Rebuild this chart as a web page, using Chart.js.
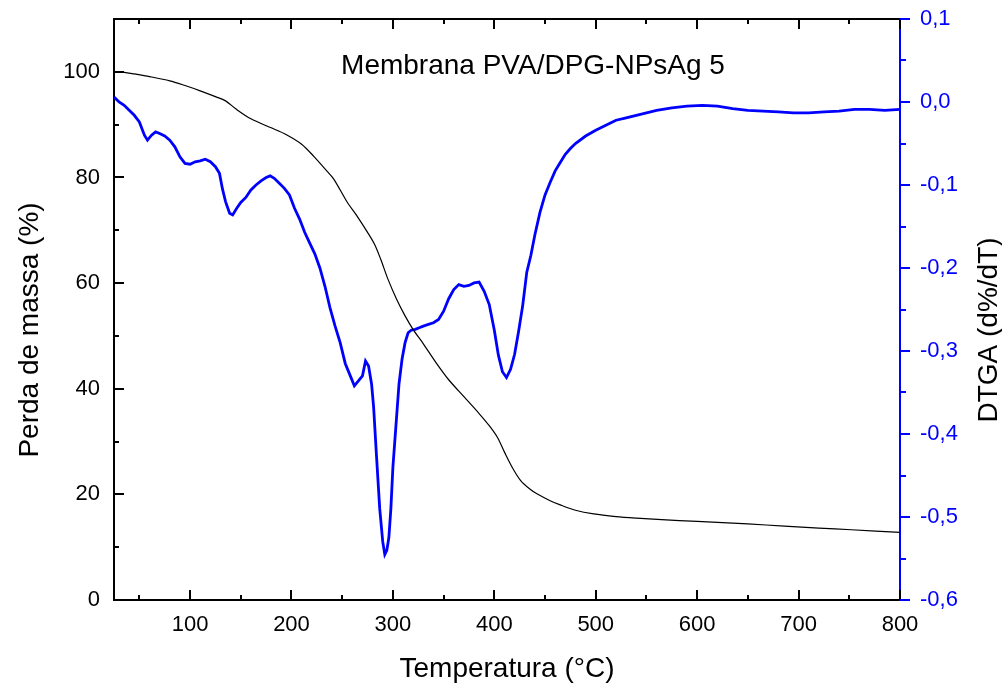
<!DOCTYPE html>
<html>
<head>
<meta charset="utf-8">
<script src="https://cdn.jsdelivr.net/npm/chart.js@4/dist/chart.umd.min.js"></script>
<style>
  html,body{margin:0;padding:0;background:#fff;}
  #wrap{width:1002px;height:686px;}
</style>
</head>
<body>
<div id="wrap"><canvas id="c" width="1002" height="686"></canvas></div>
<script>
// ---- data ----
const tgaTemps = [25,35,45,60,80,95,110,125,135,145,160,180,195,210,222,235,242,255,265,275,282,288,295,304,312,320,330,343,355,370,385,395,403,410,418,426,435,442,455,465,480,498,520,540,565,600,620,650,686,720,752,800];
const tgaMass  = [100,99.9,99.6,99.1,98.3,97.4,96.4,95.3,94.5,93.0,91.1,89.4,88.1,86.3,84.0,81.2,79.6,75.3,72.6,69.6,67.3,64.5,60.8,56.8,53.8,51.2,48.5,44.8,41.7,38.5,35.3,33.0,30.8,28.0,25.0,22.6,21.0,20.1,18.8,18.0,17.0,16.3,15.8,15.5,15.2,14.9,14.7,14.4,14.0,13.6,13.3,12.8];

const dtgTemps = [25,30,35,40,45,50,55,58,62,66,70,75,80,85,90,95,100,105,110,115,120,125,129,132,135,139,142,146,150,155,160,165,170,175,179,183,188,193,198,203,208,213,218,223,228,233,238,243,248,253,258,262,266,270,273,276,279,281,284,287,290,292,294,296,298,300,303,306,309,312,315,318,322,326,330,335,340,345,350,355,360,365,370,375,380,385,390,395,400,404,408,412,416,420,424,428,432,436,440,445,450,455,460,465,470,475,480,490,500,510,520,530,540,550,560,575,590,605,620,635,650,665,680,695,710,725,740,755,770,785,800];
const dtgValues = [0.006,0.000,-0.004,-0.010,-0.016,-0.024,-0.040,-0.046,-0.040,-0.036,-0.038,-0.041,-0.046,-0.054,-0.066,-0.074,-0.075,-0.072,-0.071,-0.069,-0.072,-0.078,-0.086,-0.105,-0.120,-0.134,-0.136,-0.128,-0.121,-0.115,-0.106,-0.100,-0.095,-0.091,-0.089,-0.092,-0.098,-0.104,-0.112,-0.128,-0.141,-0.157,-0.170,-0.183,-0.200,-0.222,-0.248,-0.270,-0.290,-0.315,-0.330,-0.342,-0.336,-0.330,-0.312,-0.318,-0.340,-0.368,-0.430,-0.490,-0.530,-0.545,-0.540,-0.525,-0.490,-0.440,-0.390,-0.340,-0.310,-0.290,-0.278,-0.275,-0.274,-0.272,-0.270,-0.268,-0.266,-0.262,-0.252,-0.237,-0.226,-0.220,-0.222,-0.221,-0.218,-0.217,-0.228,-0.244,-0.275,-0.305,-0.325,-0.332,-0.322,-0.304,-0.276,-0.245,-0.205,-0.185,-0.160,-0.133,-0.112,-0.097,-0.083,-0.073,-0.063,-0.056,-0.050,-0.041,-0.034,-0.028,-0.022,-0.019,-0.016,-0.013,-0.010,-0.007,-0.005,-0.004,-0.005,-0.008,-0.010,-0.011,-0.012,-0.013,-0.013,-0.012,-0.011,-0.009,-0.009,-0.010,-0.009];

const xTicks = [100,200,300,400,500,600,700,800];
const xMinorTicks = [50,150,250,350,450,550,650,750];
const massTicks = [0,20,40,60,80,100];
const massMinorTicks = [10,30,50,70,90];
const dtgTicks = [0.1,0,-0.1,-0.2,-0.3,-0.4,-0.5,-0.6];
const dtgTickLabels = ['0,1','0,0','-0,1','-0,2','-0,3','-0,4','-0,5','-0,6'];
const dtgMinorTicks = [0.05,-0.05,-0.15,-0.25,-0.35,-0.45,-0.55];

const titleText = 'Membrana PVA/DPG-NPsAg 5';
const xTitle = 'Temperatura (°C)';
const yTitle = 'Perda de massa (%)';
const y1Title = 'DTGA (d%/dT)';

const FONT = '"Liberation Sans", Arial, sans-serif';
const BLUE = '#0000ff';

const tgaData = tgaTemps.map((t,i)=>({x:t,y:tgaMass[i]}));
const dtgData = dtgTemps.map((t,i)=>({x:t,y:dtgValues[i]}));

const decor = {
  id:'decor',
  afterDraw(chart){
    const {ctx, chartArea:a, scales:{x,y,y1}} = chart;
    ctx.save();
    ctx.lineCap='butt';
    ctx.lineWidth=2;
    ctx.strokeStyle='#000';
    const L=(x0,y0,x1,y1_)=>{ctx.beginPath();ctx.moveTo(x0,y0);ctx.lineTo(x1,y1_);ctx.stroke();};
    L(a.left-1,a.top,a.right,a.top);
    xTicks.forEach(v=>{const p=Math.round(x.getPixelForValue(v));L(p,a.bottom,p,a.bottom-10);L(p,a.top,p,a.top+10);});
    xMinorTicks.forEach(v=>{const p=Math.round(x.getPixelForValue(v));L(p,a.bottom,p,a.bottom-5);L(p,a.top,p,a.top+5);});
    massTicks.forEach(v=>{const p=Math.round(y.getPixelForValue(v));L(a.left,p,a.left+10,p);});
    massMinorTicks.forEach(v=>{const p=Math.round(y.getPixelForValue(v));L(a.left,p,a.left+5,p);});
    ctx.strokeStyle=BLUE;
    dtgTicks.forEach(v=>{const p=Math.round(y1.getPixelForValue(v));L(a.right,p,a.right+10,p);});
    dtgMinorTicks.forEach(v=>{const p=Math.round(y1.getPixelForValue(v));L(a.right,p,a.right+6,p);});
    ctx.fillStyle='#000';
    ctx.font='28px '+FONT;
    ctx.textBaseline='alphabetic';
    ctx.textAlign='center';
    ctx.fillText(titleText,533,74);
    ctx.fillText(xTitle,(a.left+a.right)/2,677);
    ctx.save();ctx.translate(38,330);ctx.rotate(-Math.PI/2);ctx.fillText(yTitle,0,0);ctx.restore();
    ctx.save();ctx.translate(997,330);ctx.rotate(-Math.PI/2);ctx.fillText(y1Title,0,0);ctx.restore();
    ctx.restore();
  }
};

const fitV = w => s => { s.width = w; s.paddingTop = 0; s.paddingBottom = 0; };

new Chart(document.getElementById('c'),{
  type:'line',
  data:{datasets:[
    {label:'TGA',data:tgaData,yAxisID:'y',borderColor:'#000',borderWidth:1.2,pointRadius:0,tension:0.3,order:0},
    {label:'DTGA',data:dtgData,yAxisID:'y1',borderColor:BLUE,borderWidth:2.8,pointRadius:0,tension:0,order:1}
  ]},
  options:{
    responsive:false,animation:false,devicePixelRatio:1,
    layout:{padding:{top:19,left:0,right:0,bottom:0}},
    plugins:{legend:{display:false},tooltip:{enabled:false},title:{display:false}},
    scales:{
      x:{type:'linear',min:25,max:800,
        afterBuildTicks:s=>{s.ticks=xTicks.map(v=>({value:v}));},
        afterFit:s=>{s.height=86;s.paddingLeft=0;s.paddingRight=0;},
        grid:{display:false,drawTicks:false},
        border:{display:true,color:'#000',width:2},
        ticks:{padding:12,color:'#000',font:{family:FONT,size:22},maxRotation:0,autoSkip:false}},
      y:{type:'linear',position:'left',min:0,max:110,
        afterBuildTicks:s=>{s.ticks=massTicks.map(v=>({value:v}));},
        afterFit:fitV(114),
        grid:{display:false,drawTicks:false},
        border:{display:true,color:'#000',width:2},
        ticks:{padding:14,color:'#000',font:{family:FONT,size:22}}},
      y1:{type:'linear',position:'right',min:-0.6,max:0.1,
        afterBuildTicks:s=>{s.ticks=dtgTicks.map(v=>({value:v}));},
        afterFit:fitV(102),
        grid:{display:false,drawTicks:false},
        border:{display:true,color:BLUE,width:2},
        ticks:{padding:20,color:BLUE,font:{family:FONT,size:22},
          callback:(v)=>{const i=dtgTicks.findIndex(t=>Math.abs(t-v)<1e-9);return i>=0?dtgTickLabels[i]:'';}}}
    }
  },
  plugins:[decor]
});
</script>
</body>
</html>
